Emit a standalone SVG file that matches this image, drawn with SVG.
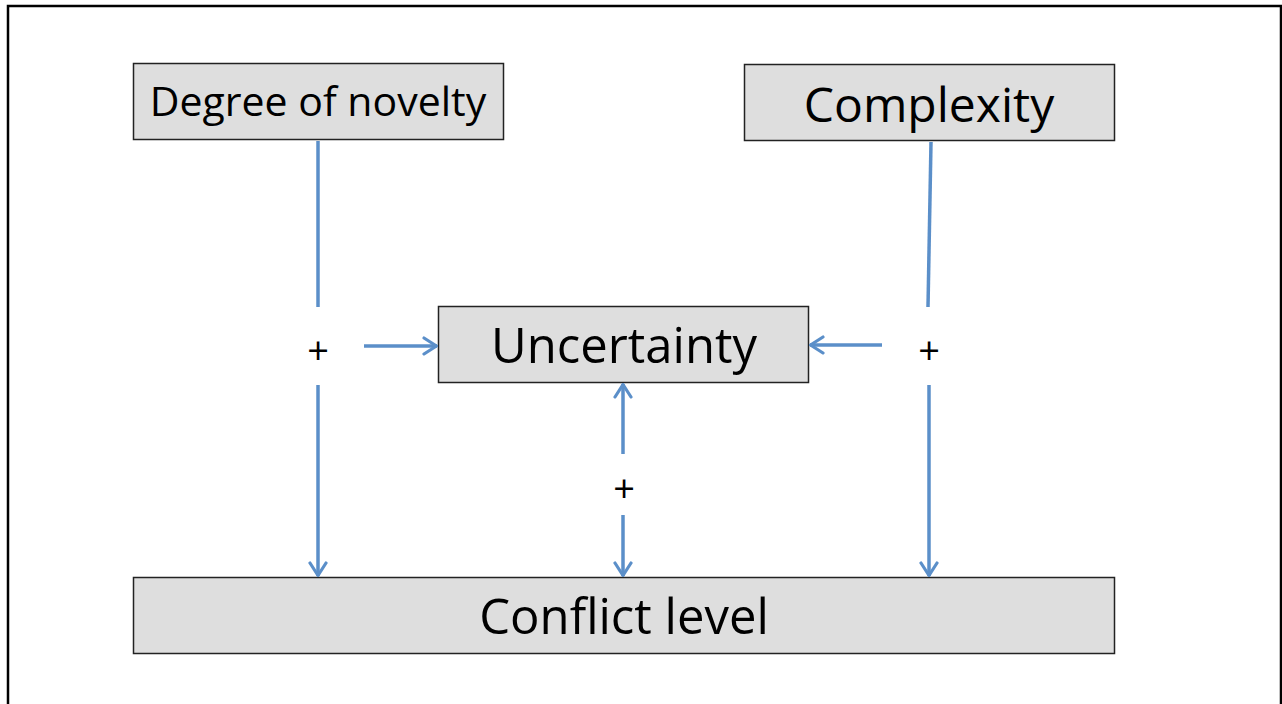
<svg xmlns="http://www.w3.org/2000/svg" width="1282" height="704" viewBox="0 0 1282 704">
  <defs>
    <style>
      .box { fill: #dedede; stroke: #222; stroke-width: 1.5; }
      .lbl { font-family: "Open Sans", "Noto Sans", sans-serif; fill: #000; text-anchor: middle; }
      .plus { font-family: "Open Sans", "Noto Sans", sans-serif; font-size: 38px; fill: #000; text-anchor: middle; dominant-baseline: central; }
      .link { stroke: #5b8fc9; stroke-width: 3.5; fill: none; }
    </style>
    <marker id="head" viewBox="0 0 16 20" refX="15" refY="10" markerWidth="16" markerHeight="20" markerUnits="userSpaceOnUse" orient="auto-start-reverse">
      <path d="M2,2 L14.5,10 L2,18" fill="none" stroke="#5b8fc9" stroke-width="3.2" stroke-linecap="round" stroke-linejoin="round"/>
    </marker>
  </defs>

  <rect x="0" y="0" width="1282" height="704" fill="#fff"/>
  <!-- frame -->
  <path d="M8,712 L8,6 L1281,6 L1281,712" fill="none" stroke="#000" stroke-width="2.5"/>

  <g id="novelty">
    <rect class="box" x="133.5" y="63.5" width="370" height="76"/>
    <text class="lbl" x="318" y="116" font-size="41">Degree of novelty</text>
  </g>
  <g id="complexity">
    <rect class="box" x="744.5" y="64.5" width="370" height="76"/>
    <text class="lbl" x="929" y="122" font-size="48">Complexity</text>
  </g>
  <g id="uncertainty">
    <rect class="box" x="438.5" y="306.5" width="370" height="76"/>
    <text class="lbl" x="624" y="363" font-size="49">Uncertainty</text>
  </g>
  <g id="conflict">
    <rect class="box" x="133.5" y="577.5" width="981" height="76"/>
    <text class="lbl" x="624" y="634" font-size="49">Conflict level</text>
  </g>

  <g id="connectors">
    <line class="link" x1="318" y1="141" x2="318" y2="307"/>
    <line class="link" x1="318" y1="385" x2="318" y2="576" marker-end="url(#head)"/>
    <line class="link" x1="364" y1="346" x2="437" y2="346" marker-end="url(#head)"/>
    <line class="link" x1="931" y1="142" x2="928" y2="307"/>
    <line class="link" x1="929" y1="385" x2="929" y2="576" marker-end="url(#head)"/>
    <line class="link" x1="882" y1="345" x2="810" y2="345" marker-end="url(#head)"/>
    <line class="link" x1="623" y1="454" x2="623" y2="384" marker-end="url(#head)"/>
    <line class="link" x1="623" y1="515" x2="623" y2="576" marker-end="url(#head)"/>
  </g>

  <g id="signs">
    <text class="plus" x="318" y="349">+</text>
    <text class="plus" x="929" y="349">+</text>
    <text class="plus" x="624" y="487">+</text>
  </g>
</svg>
